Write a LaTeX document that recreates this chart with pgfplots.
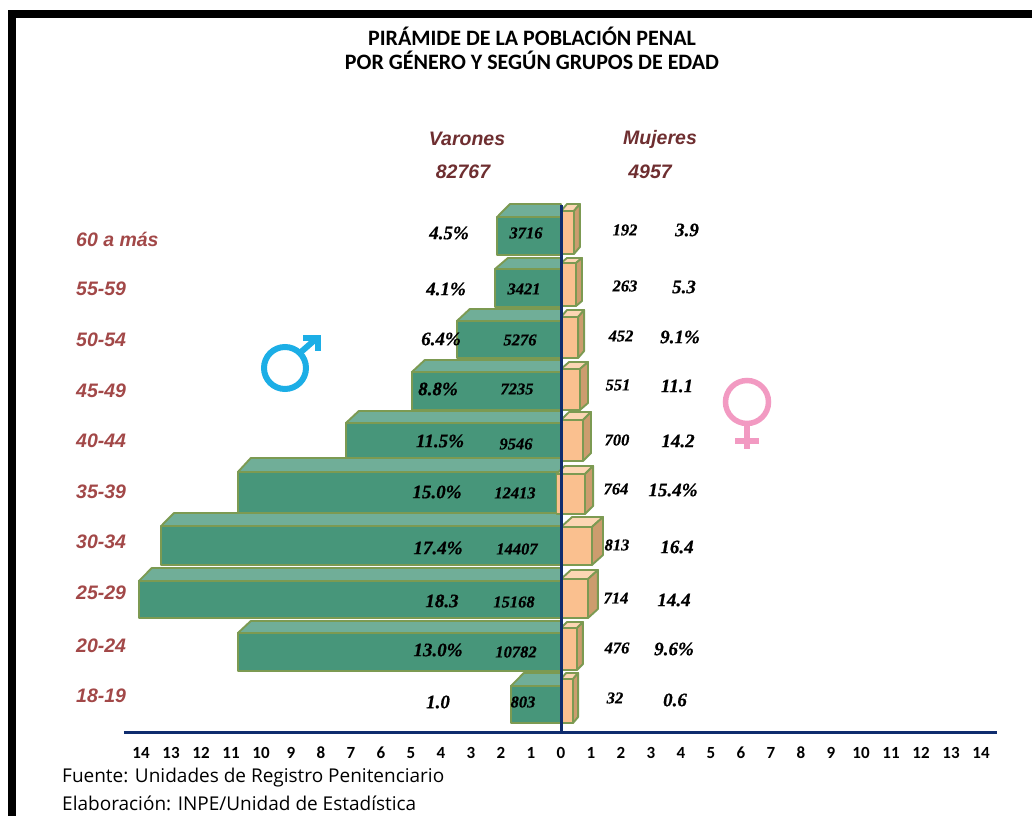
\documentclass[border=0pt]{standalone}
\usepackage{pgfplots}
\pgfplotsset{compat=1.18}
\usepackage{fontspec}
\setmainfont{Liberation Serif}
\newfontfamily\carl{Carlito}
\newfontfamily\lsans{Liberation Sans}
\newfontfamily\osans{Open Sans}
\newfontfamily\heavy[FakeBold=1.5]{Liberation Serif Bold Italic}
\definecolor{mfront}{HTML}{47967A}
\definecolor{mtop}{HTML}{70AE98}
\definecolor{edge}{HTML}{7C9A52}
\definecolor{ffront}{HTML}{FAC08F}
\definecolor{ftop}{HTML}{FCD6B4}
\definecolor{fside}{HTML}{CC9C6E}
\definecolor{navy}{HTML}{0F2C6E}
\definecolor{agecol}{HTML}{A24848}
\definecolor{headcol}{HTML}{6E2E30}
\definecolor{malec}{HTML}{1CAEE6}
\definecolor{femc}{HTML}{F29AC2}
% male bar: left end, top of roof, top of front, bottom, right end of front
\newcommand\mbar[5]{%
  \addplot[fill=mtop,draw=edge,line width=1.9pt,line join=round] coordinates {(#1,#3) ({#1+0.43},#2) (0,#2) (0,#3)} --cycle;
  \addplot[fill=mfront,draw=edge,line width=1.9pt,line join=round] coordinates {(#1,#3) (#5,#3) (#5,#4) (#1,#4)} --cycle;
}
% female bar: right end of front, right end of side, top of roof, top of front, bottom, left end
\newcommand\fbar[6]{%
  \addplot[fill=ftop,draw=edge,line width=1.9pt,line join=round] coordinates {(#6,#4) ({#6+#2-#1},#3) (#2,#3) (#1,#4)} --cycle;
  \addplot[fill=fside,draw=edge,line width=1.9pt,line join=round] coordinates {(#1,#4) (#2,#3) (#2,{#5-#4+#3}) (#1,#5)} --cycle;
  \addplot[fill=ffront,draw=edge,line width=1.9pt,line join=round] coordinates {(#6,#4) (#1,#4) (#1,#5) (#6,#5)} --cycle;
}
\newcommand\lab[4]{\node[#3] at (axis cs:{(#1-561)/30},#2) {#4};}
\newcommand\valfont{\fontspec{Liberation Serif}[FakeBold=0.6]\fontsize{19}{22}\bfseries\itshape\selectfont}
\newcommand\cntfont{\fontspec{Liberation Serif}[FakeBold=0.6]\fontsize{16.5}{20}\bfseries\itshape\selectfont}
\newcommand\agefont{\lsans\fontsize{19.5}{23}\bfseries\itshape\selectfont\color{agecol}}
\newcommand\headfont{\lsans\fontsize{19.5}{23}\bfseries\itshape\selectfont\color{headcol}}
\newcommand\titlefont{\carl\fontsize{22}{25}\bfseries\selectfont}
\newcommand\srcfont{\osans\fontsize{19}{22}\selectfont}
\begin{document}
\begin{tikzpicture}
\begin{axis}[
  scale only axis, width=873pt, height=532pt,
  xmin=-14.5667, xmax=14.5333, ymin=200, ymax=732,
  y dir=reverse, clip=false,
  axis x line=bottom, axis y line=none,
  axis line style={navy,line width=3pt,-},
  xtick={-14,-13,...,14},
  xticklabels={14,13,12,11,10,9,8,7,6,5,4,3,2,1,0,1,2,3,4,5,6,7,8,9,10,11,12,13,14},
  major tick length=0pt,
  xticklabel style={font=\carl\fontsize{17}{20}\bfseries\selectfont,text=black,anchor=center,yshift=-21pt,inner sep=0pt},
]
\coordinate (tl) at (axis cs:{(0-561)/30},0);
\coordinate (br) at (axis cs:{(1032-561)/30},816);
% frame
\fill[black] (axis cs:{(8-561)/30},10) rectangle (axis cs:{(1032-561)/30},18);
\fill[black] (axis cs:{(8-561)/30},10) rectangle (axis cs:{(16-561)/30},816);
% male bars
\mbar{-2.13}{204}{217}{255}{0}
\mbar{-2.20}{258}{269}{307}{0}
\mbar{-3.47}{309}{321}{358}{0}
\mbar{-4.97}{360}{372}{410}{0}
\mbar{-7.17}{411}{423}{461}{0}
\mbar{-10.77}{458}{472}{513}{-0.15}
\mbar{-13.33}{513}{526}{565}{0}
\mbar{-14.07}{568}{581}{618}{0}
\mbar{-10.77}{621}{633}{671}{0}
\mbar{-1.67}{673}{686}{723}{0}
% female bars
\fbar{0.43}{0.63}{204}{211}{254}{0}
\fbar{0.50}{0.70}{258}{263}{306}{0}
\fbar{0.57}{0.77}{310}{317}{358}{0}
\fbar{0.63}{0.90}{362}{369}{410}{0}
\fbar{0.73}{1.00}{412}{420}{461}{0}
\fbar{0.80}{1.07}{466}{474}{514}{-0.15}
\fbar{1.03}{1.40}{517}{527}{565}{0}
\fbar{0.90}{1.23}{570}{579}{618}{0}
\fbar{0.53}{0.73}{622}{628}{670}{0}
\fbar{0.40}{0.57}{673}{679}{723}{0}
% centre line
\addplot[navy,line width=3pt] coordinates {(0,205) (0,732)};
% title
\lab{532}{36}{font=\titlefont}{PIRÁMIDE DE LA POBLACIÓN PENAL}
\lab{532}{60}{font=\titlefont}{POR GÉNERO Y SEGÚN GRUPOS DE EDAD}
% heads
\lab{467}{139}{font=\headfont}{Varones}
\lab{463}{172}{font=\headfont}{82767}
\lab{660}{139}{font=\headfont}{Mujeres}
\lab{650}{172}{font=\headfont}{4957}
% age groups
\lab{76}{239}{anchor=west,inner sep=0pt,font=\agefont}{60 a más}
\lab{76}{289}{anchor=west,inner sep=0pt,font=\agefont}{55-59}
\lab{76}{340}{anchor=west,inner sep=0pt,font=\agefont}{50-54}
\lab{76}{391}{anchor=west,inner sep=0pt,font=\agefont}{45-49}
\lab{76}{441}{anchor=west,inner sep=0pt,font=\agefont}{40-44}
\lab{76}{492}{anchor=west,inner sep=0pt,font=\agefont}{35-39}
\lab{76}{542}{anchor=west,inner sep=0pt,font=\agefont}{30-34}
\lab{76}{593}{anchor=west,inner sep=0pt,font=\agefont}{25-29}
\lab{76}{646}{anchor=west,inner sep=0pt,font=\agefont}{20-24}
\lab{76}{696}{anchor=west,inner sep=0pt,font=\agefont}{18-19}
% male percentages
\lab{449}{233}{font=\valfont}{4.5\%}
\lab{446}{289}{font=\valfont}{4.1\%}
\lab{441}{339}{font=\valfont}{6.4\%}
\lab{438}{389}{font=\valfont}{8.8\%}
\lab{440}{441}{font=\valfont}{11.5\%}
\lab{437}{492}{font=\valfont}{15.0\%}
\lab{438}{548}{font=\valfont}{17.4\%}
\lab{442}{601}{font=\valfont}{18.3}
\lab{438}{650}{font=\valfont}{13.0\%}
\lab{438}{702}{font=\valfont}{1.0}
% male counts
\lab{526}{233}{font=\cntfont}{3716}
\lab{524}{289}{font=\cntfont}{3421}
\lab{520}{340}{font=\cntfont}{5276}
\lab{517}{389}{font=\cntfont}{7235}
\lab{516}{444}{font=\cntfont}{9546}
\lab{515}{493}{font=\cntfont}{12413}
\lab{517}{549}{font=\cntfont}{14407}
\lab{514}{602}{font=\cntfont}{15168}
\lab{516}{652}{font=\cntfont}{10782}
\lab{523}{702}{font=\cntfont}{803}
% female counts
\lab{625}{230}{font=\cntfont}{192}
\lab{625}{286}{font=\cntfont}{263}
\lab{621}{336}{font=\cntfont}{452}
\lab{618}{385}{font=\cntfont}{551}
\lab{617}{440}{font=\cntfont}{700}
\lab{616}{489}{font=\cntfont}{764}
\lab{617}{545}{font=\cntfont}{813}
\lab{616}{598}{font=\cntfont}{714}
\lab{617}{648}{font=\cntfont}{476}
\lab{615}{698}{font=\cntfont}{32}
% female percentages
\lab{687}{230}{font=\valfont}{3.9}
\lab{684}{287}{font=\valfont}{5.3}
\lab{680}{337}{font=\valfont}{9.1\%}
\lab{677}{386}{font=\valfont}{11.1}
\lab{678}{441}{font=\valfont}{14.2}
\lab{673}{490}{font=\valfont}{15.4\%}
\lab{677}{547}{font=\valfont}{16.4}
\lab{674}{600}{font=\valfont}{14.4}
\lab{674}{649}{font=\valfont}{9.6\%}
\lab{675}{700}{font=\valfont}{0.6}
% source
\lab{62}{778}{anchor=west,inner sep=0pt,font=\srcfont}{Fuente: Unidades de Registro Penitenciario}
\lab{62}{803}{anchor=west,inner sep=0pt,font=\srcfont}{Elaboración: INPE/Unidad de Estadística}
% gender symbols
\draw[malec,line width=6pt] (axis cs:{(285-561)/30},368) circle[radius=21pt];
\draw[malec,line width=6pt] (axis cs:{(301-561)/30},352) -- (axis cs:{(317-561)/30},338);
\draw[malec,line width=6pt,miter limit=10] (axis cs:{(303-561)/30},337.5) -- (axis cs:{(318-561)/30},337.5) -- (axis cs:{(318-561)/30},351);
\draw[femc,line width=5.5pt] (axis cs:{(747-561)/30},402) circle[radius=21.5pt];
\draw[femc,line width=5.5pt] (axis cs:{(747-561)/30},424) -- (axis cs:{(747-561)/30},449);
\draw[femc,line width=5.5pt] (axis cs:{(735-561)/30},441) -- (axis cs:{(759-561)/30},441);
\end{axis}
\path (tl) rectangle (br);
\end{tikzpicture}
\end{document}
